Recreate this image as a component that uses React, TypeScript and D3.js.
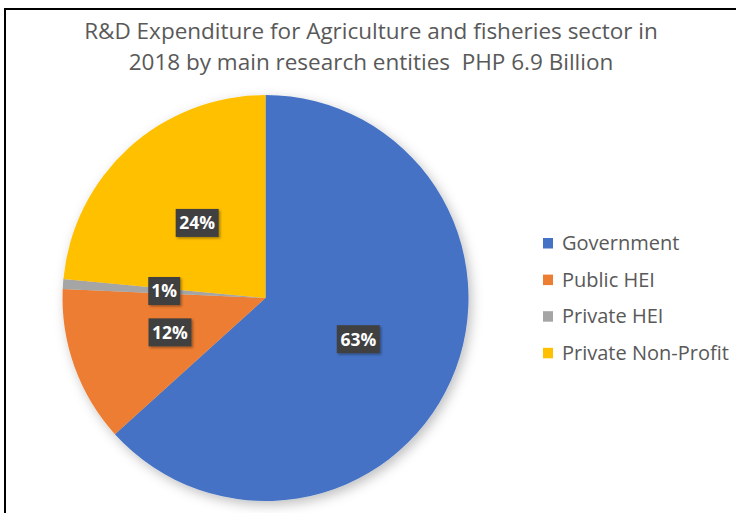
import React from "react";
import * as d3 from "d3";

const categories = ["Government", "Public HEI", "Private HEI", "Private Non-Profit"];
const shares = [63.3, 12.4, 0.8, 23.5];
const colors = ["#4472C4", "#ED7D31", "#A5A5A5", "#FFC000"];
const titleLines = [
  "R&D Expenditure for Agriculture and fisheries sector in",
  "2018 by main research entities\u00A0 PHP 6.9 Billion",
];

const W = 736;
const H = 513;

export default function App() {
  const cx = 265.5;
  const cy = 298;
  const R = 203;
  const data = categories.map((c, i) => ({ c, v: shares[i], color: colors[i] }));
  const pie = d3.pie<any>().value((d) => d.v).sort(null);
  const arcs = pie(data);
  const arc = d3.arc<any>().innerRadius(0).outerRadius(R);
  const font = "Open Sans, sans-serif";
  return (
    <div style={{ position: "absolute", left: 0, top: 0 }}>
      <svg width={W} height={H} style={{ display: "block", background: "#fff" }}>
        <defs>
          <filter id="sh" x="-20%" y="-20%" width="140%" height="140%">
            <feDropShadow dx="3" dy="4" stdDeviation="6" floodColor="#000" floodOpacity="0.25" />
          </filter>
          <filter id="lsh" x="-30%" y="-30%" width="160%" height="160%">
            <feDropShadow dx="1.5" dy="1.5" stdDeviation="1.2" floodColor="#000" floodOpacity="0.35" />
          </filter>
        </defs>
        <line x1={5} y1={9} x2={5} y2={H} stroke="#000" strokeWidth={2} />
        <line x1={4} y1={9} x2={W} y2={9} stroke="#000" strokeWidth={2} />
        {titleLines.map((t, i) => (
          <text key={i} x={371} y={39 + i * 31} textAnchor="middle" fontFamily={font} fontSize={22.5} fill="#595959">
            {t}
          </text>
        ))}
        <g transform={`translate(${cx},${cy})`}>
          <g filter="url(#sh)">
            {arcs.map((a, i) => (
              <path key={i} d={arc(a) as string} fill={a.data.color} />
            ))}
          </g>
          {arcs.map((a, i) => {
            const [x, y] = arc.centroid(a);
            const label = `${Math.round(a.data.v)}%`;
            const w = label.length * 11 + 10;
            return (
              <g key={"l" + i} transform={`translate(${x},${y})`}>
                <rect x={-w / 2} y={-14} width={w} height={28} fill="#404040" filter="url(#lsh)" />
                <text x={0} y={6.5} textAnchor="middle" fontFamily={font} fontWeight="bold" fontSize={17.5} fill="#fff">
                  {label}
                </text>
              </g>
            );
          })}
        </g>
        {categories.map((c, i) => (
          <g key={c} transform={`translate(543,${243 + i * 36.6})`}>
            <rect x={0} y={-5} width={10} height={10.5} fill={colors[i]} />
            <text x={19} y={7} fontFamily={font} fontSize={20} fill="#595959">
              {c}
            </text>
          </g>
        ))}
      </svg>
    </div>
  );
}
